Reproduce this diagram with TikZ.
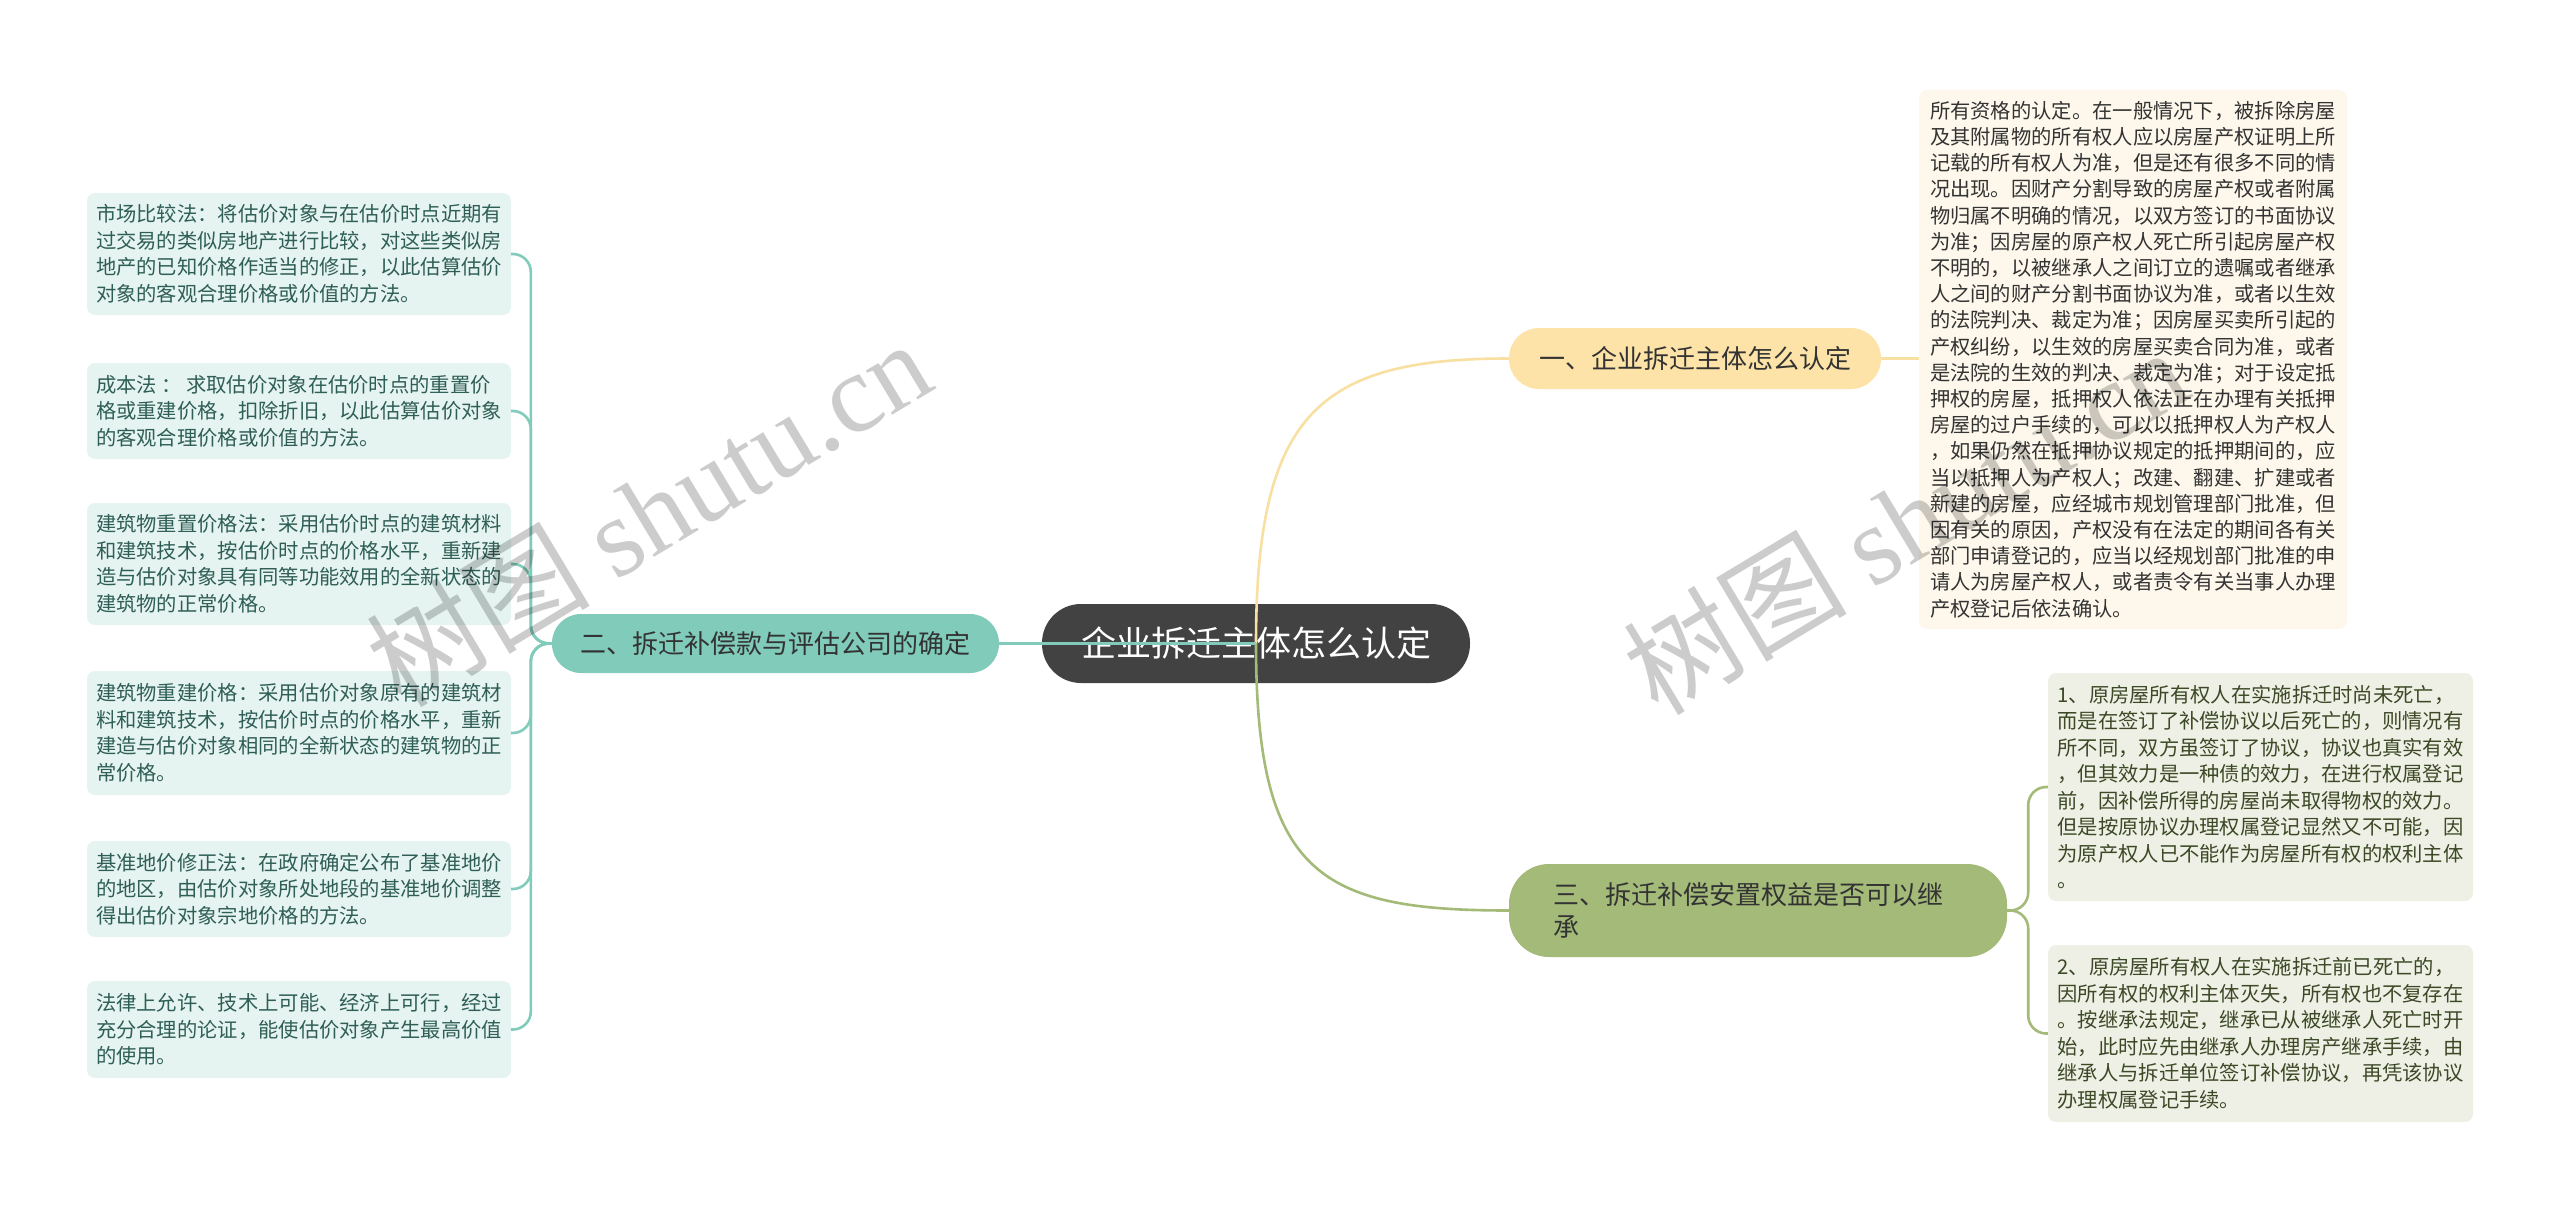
\documentclass[tikz,border=0pt]{standalone}
\usepackage{fontspec}
\setmainfont{Noto Sans CJK SC}
\newfontfamily\wmlatin{Liberation Serif}
\usepackage{tikz}
\usetikzlibrary{positioning}

\definecolor{rootgray}{HTML}{424242}
\definecolor{inkdark}{HTML}{333333}
\definecolor{teal}{HTML}{80CBBA}
\definecolor{tealleaf}{HTML}{E5F4F0}
\definecolor{tealink}{HTML}{2F5E56}
\definecolor{yellowsub}{HTML}{FDE3A7}
\definecolor{yellowline}{HTML}{F8DFA2}
\definecolor{creamleaf}{HTML}{FDF8EB}
\definecolor{greensub}{HTML}{A4BA78}
\definecolor{greenleaf}{HTML}{EEF0E5}
\definecolor{greenink}{HTML}{3C4826}

\tikzset{
  rootnode/.style={fill=rootgray,text=white,rounded corners=39pt,minimum width=428pt,minimum height=79pt,inner sep=0pt,font=\fontsize{35}{40}\selectfont},
  subnode/.style={text=inkdark,inner sep=0pt,align=left,font=\fontsize{26}{32}\selectfont},
  leafnode/.style={rounded corners=8pt,align=left,inner sep=0pt,font=\fontsize{20.3}{26.5}\selectfont},
  tealleafnode/.style={leafnode,fill=tealleaf,text=tealink,minimum width=424pt},
  greenleafnode/.style={leafnode,fill=greenleaf,text=greenink,minimum width=425pt},
  link/.style={line width=2.6pt},
  wmark/.style={text=black,text opacity=0.2,rotate=31,font=\fontsize{112}{120}\selectfont}
}

\begin{document}
\begin{tikzpicture}[x=1pt,y=-1pt]
\useasboundingbox (0,0) rectangle (2560,1209);
\node[rootnode] (root) at (1256,643.5) {企业拆迁主体怎么认定};
\node[subnode,fill=yellowsub,rounded corners=30pt,minimum width=372pt,minimum height=61pt] (sub1) at (1695,358.5) {一、企业拆迁主体怎么认定};
\node[subnode,fill=teal,rounded corners=29pt,minimum width=447pt,minimum height=59pt] (sub2) at (775.5,643.5) {二、拆迁补偿款与评估公司的确定};
\node[subnode,fill=greensub,rounded corners=40pt,minimum width=498pt,minimum height=93pt,text width=410pt] (sub3) at (1758,910.5) {三、拆迁补偿安置权益是否可以继\\承};

\node[leafnode,fill=creamleaf,text=inkdark,minimum width=428pt,minimum height=539pt,font=\fontsize{20.3}{26.2}\selectfont] (lfa) at (2133,359.5) {所有资格的认定。在一般情况下，被拆除房屋\\及其附属物的所有权人应以房屋产权证明上所\\记载的所有权人为准，但是还有很多不同的情\\况出现。因财产分割导致的房屋产权或者附属\\物归属不明确的情况，以双方签订的书面协议\\为准；因房屋的原产权人死亡所引起房屋产权\\不明的，以被继承人之间订立的遗嘱或者继承\\人之间的财产分割书面协议为准，或者以生效\\的法院判决、裁定为准；因房屋买卖所引起的\\产权纠纷，以生效的房屋买卖合同为准，或者\\是法院的生效的判决、裁定为准；对于设定抵\\押权的房屋，抵押权人依法正在办理有关抵押\\房屋的过户手续的，可以以抵押权人为产权人\\，如果仍然在抵押协议规定的抵押期间的，应\\当以抵押人为产权人；改建、翻建、扩建或者\\新建的房屋，应经城市规划管理部门批准，但\\因有关的原因，产权没有在法定的期间各有关\\部门申请登记的，应当以经规划部门批准的申\\请人为房屋产权人，或者责令有关当事人办理\\产权登记后依法确认。};

\node[tealleafnode,minimum height=122pt] (lf1) at (299,254) {市场比较法：将估价对象与在估价时点近期有\\过交易的类似房地产进行比较，对这些类似房\\地产的已知价格作适当的修正，以此估算估价\\对象的客观合理价格或价值的方法。};
\node[tealleafnode,minimum height=96pt] (lf2) at (299,411) {成本法 ： 求取估价对象在估价时点的重置价\\格或重建价格，扣除折旧，以此估算估价对象\\的客观合理价格或价值的方法。};
\node[tealleafnode,minimum height=122pt] (lf3) at (299,564) {建筑物重置价格法：采用估价时点的建筑材料\\和建筑技术，按估价时点的价格水平，重新建\\造与估价对象具有同等功能效用的全新状态的\\建筑物的正常价格。};
\node[tealleafnode,minimum height=124pt] (lf4) at (299,733) {建筑物重建价格：采用估价对象原有的建筑材\\料和建筑技术，按估价时点的价格水平，重新\\建造与估价对象相同的全新状态的建筑物的正\\常价格。};
\node[tealleafnode,minimum height=96pt] (lf5) at (299,889) {基准地价修正法：在政府确定公布了基准地价\\的地区，由估价对象所处地段的基准地价调整\\得出估价对象宗地价格的方法。};
\node[tealleafnode,minimum height=97pt] (lf6) at (299,1029.5) {法律上允许、技术上可能、经济上可行，经过\\充分合理的论证，能使估价对象产生最高价值\\的使用。};

\node[greenleafnode,minimum height=228pt] (lg1) at (2260.5,787) {1、原房屋所有权人在实施拆迁时尚未死亡，\\而是在签订了补偿协议以后死亡的，则情况有\\所不同，双方虽签订了协议，协议也真实有效\\，但其效力是一种债的效力，在进行权属登记\\前，因补偿所得的房屋尚未取得物权的效力。\\但是按原协议办理权属登记显然又不可能，因\\为原产权人已不能作为房屋所有权的权利主体\\。};
\node[greenleafnode,minimum height=177pt] (lg2) at (2260.5,1033.5) {2、原房屋所有权人在实施拆迁前已死亡的，\\因所有权的权利主体灭失，所有权也不复存在\\。按继承法规定，继承已从被继承人死亡时开\\始，此时应先由继承人办理房产继承手续，由\\继承人与拆迁单位签订补偿协议，再凭该协议\\办理权属登记手续。};

\draw[link,yellowline] (root.center) .. controls +(0,-230) and +(-190,0) .. (sub1.west);
\draw[link,greensub] (root.center) .. controls +(0,230) and +(-190,0) .. (sub3.west);
\draw[link,teal] (root.center) -- (sub2.east);
\draw[link,yellowline] (sub1.east) -- (sub1.east -| lfa.west);
\foreach \n in {1,...,6}
  \draw[link,teal,rounded corners=18pt] (sub2.west) -- ++(-21,0) |- (lf\n.east);
\foreach \n in {1,2}
  \draw[link,greensub,rounded corners=18pt] (sub3.east) -- ++(21,0) |- (lg\n.west);

\node[wmark] (wm1) at (648,512) {树图 {\wmlatin shutu.cn}};
\node[wmark] (wm2) at (1905,520) {树图 {\wmlatin shutu.cn}};
\end{tikzpicture}
\end{document}
